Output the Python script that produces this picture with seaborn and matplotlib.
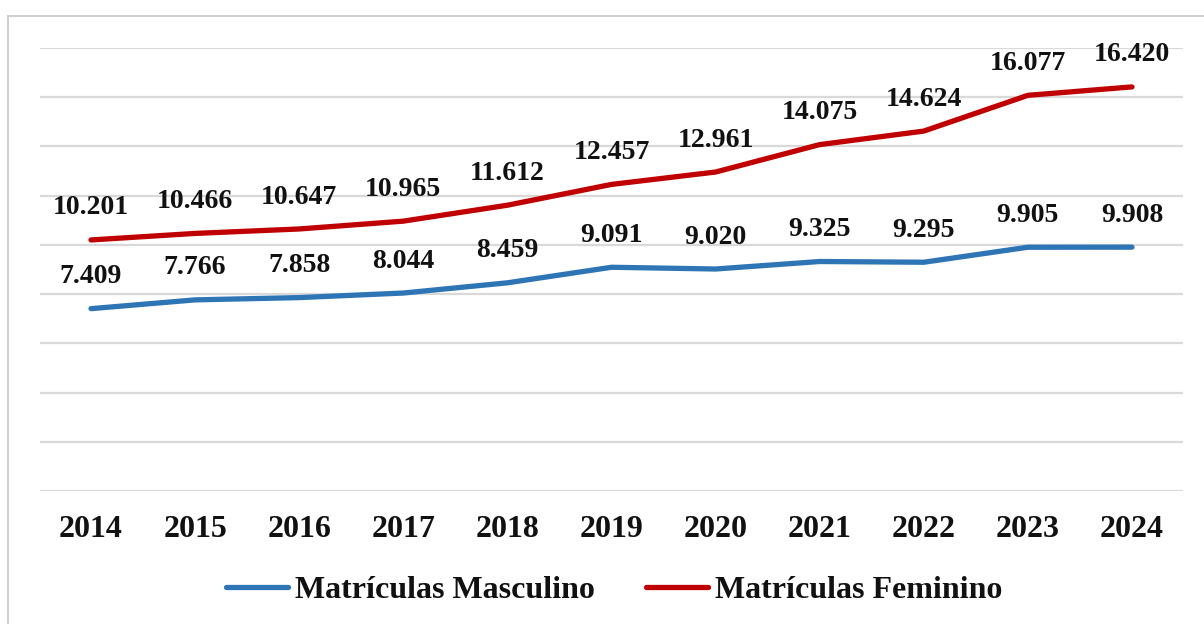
import matplotlib
matplotlib.use("Agg")
import matplotlib.pyplot as plt
import seaborn as sns
import pandas as pd
from matplotlib.lines import Line2D

years = ["2014", "2015", "2016", "2017", "2018", "2019", "2020", "2021", "2022", "2023", "2024"]
masculino = [7409, 7766, 7858, 8044, 8459, 9091, 9020, 9325, 9295, 9905, 9908]
feminino = [10201, 10466, 10647, 10965, 11612, 12457, 12961, 14075, 14624, 16077, 16420]
series_names = ["Matrículas Masculino", "Matrículas Feminino"]
colors = ["#2E75B6", "#C00000"]

sns.set_theme(style="white")
plt.rcParams["font.family"] = ["Liberation Serif", "DejaVu Serif"]
plt.rcParams["font.weight"] = "bold"

df = pd.DataFrame({
    "Ano": years * 2,
    "Valor": masculino + feminino,
    "Série": [series_names[0]] * len(years) + [series_names[1]] * len(years),
})

fig = plt.figure(figsize=(12.04, 6.24), dpi=100)
ax = fig.add_axes([40 / 1204, 1 - 491 / 624, (1183 - 40) / 1204, (491 - 48) / 624])

sns.lineplot(data=df, x="Ano", y="Valor", hue="Série", palette=colors,
             linewidth=3.8, ax=ax, legend=False, sort=False)

ax.set_xlim(-0.49, len(years) - 1 + 0.49)
ax.set_ylim(0, 18000)
ax.set_yticks(range(0, 18001, 2000))
ax.yaxis.grid(True, color="#d9d9d9", linewidth=1.6)
ax.set_axisbelow(True)
ax.tick_params(axis="y", left=False, labelleft=False)
ax.tick_params(axis="x", length=0, pad=17, labelsize=23, labelcolor="#111111")
for lbl in ax.get_xticklabels():
    lbl.set_fontweight("bold")
ax.set_xlabel("")
ax.set_ylabel("")
for s in ax.spines.values():
    s.set_visible(False)

def fmt(v):
    return f"{v:,}".replace(",", ".")

for vals in (masculino, feminino):
    for i, v in enumerate(vals):
        ax.annotate(fmt(v), (i, v), xytext=(0, 23), textcoords="offset points",
                    ha="center", va="center", fontsize=20, fontweight="bold",
                    color="#111111")

handles = [Line2D([0], [0], color=c, linewidth=3.8) for c in colors]
fig.legend(handles, series_names, loc="center", bbox_to_anchor=(0.51, 1 - 590 / 624),
           ncol=2, frameon=False, prop={"size": 23, "weight": "bold"},
           handlelength=1.95, handletextpad=0.2, columnspacing=1.6,
           labelcolor="#111111")

# outer border (left and top visible)
fig.add_artist(Line2D([8 / 1204, 8 / 1204], [0, 1 - 16 / 624], transform=fig.transFigure,
                      color="#d0d0d0", linewidth=1.5))
fig.add_artist(Line2D([8 / 1204, 1], [1 - 16 / 624, 1 - 16 / 624], transform=fig.transFigure,
                      color="#d0d0d0", linewidth=1.5))

fig.savefig("out.png", dpi=100)
